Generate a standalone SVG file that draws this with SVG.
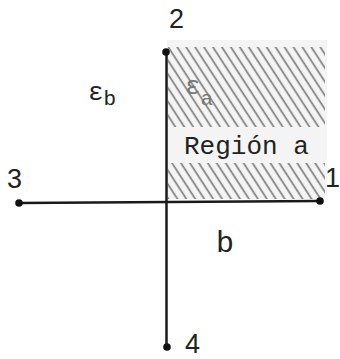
<svg xmlns="http://www.w3.org/2000/svg" width="340" height="359" viewBox="0 0 340 359">
  <style>
    .ax { stroke: #1a1a1a; stroke-width: 2.5; fill: none; stroke-linecap: round; }
    .dot { fill: #111; }
    .num { font-family: "Liberation Sans", Arial, sans-serif; font-size: 27px; fill: #222; }
    .mono { font-family: "Liberation Mono", "Courier New", monospace; fill: #222; }
    .hatch { fill: url(#hatch); }
  </style>
  <defs>
    <pattern id="hatch" patternUnits="userSpaceOnUse" width="7.5" height="10" patternTransform="rotate(-33)">
      <rect width="7.5" height="10" fill="#f4f4f4"/>
      <line x1="3" y1="0" x2="3" y2="10" stroke="#808080" stroke-width="1.7"/>
    </pattern>
  </defs>

  <g id="region-a">
    <rect x="167" y="40" width="160" height="155" fill="#f4f4f4"/>
    <rect class="hatch" x="168" y="47" width="157" height="80"/>
    <rect class="hatch" x="168" y="163" width="157" height="36"/>
    <text class="mono" x="184" y="154" font-size="26">Región a</text>
    <text class="mono" x="185" y="94" font-size="26" style="fill:#777">ε<tspan font-size="21" dy="11">a</tspan></text>
  </g>

  <g id="region-b">
    <text class="mono" x="88" y="100" font-size="26">ε<tspan font-size="21" dy="5">b</tspan></text>
    <text class="mono" x="216" y="252" font-size="30">b</text>
  </g>

  <g id="connectors">
    <line class="ax" x1="19" y1="203" x2="320" y2="201"/>
    <line class="ax" x1="166.5" y1="52" x2="166.5" y2="347"/>
  </g>

  <g id="node-1">
    <circle class="dot" cx="320" cy="201" r="3.8"/>
    <text class="num" x="325" y="187">1</text>
  </g>
  <g id="node-2">
    <circle class="dot" cx="166" cy="52" r="3.8"/>
    <text class="num" x="169" y="28">2</text>
  </g>
  <g id="node-3">
    <circle class="dot" cx="19" cy="203" r="3.8"/>
    <text class="num" x="7" y="188">3</text>
  </g>
  <g id="node-4">
    <circle class="dot" cx="167" cy="347" r="3.8"/>
    <text class="num" x="185" y="353" font-size="25">4</text>
  </g>
</svg>
